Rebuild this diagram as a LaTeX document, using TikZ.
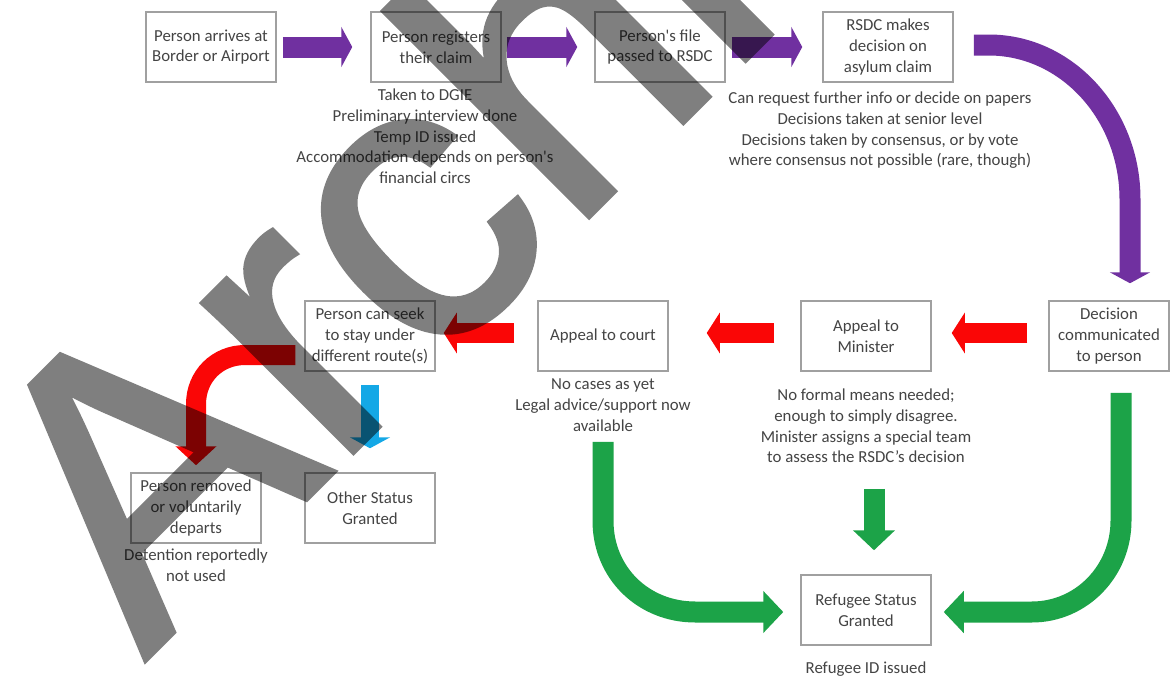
\documentclass[tikz,border=0pt]{standalone}
\usepackage{fontspec}
\setmainfont{Carlito}
\newfontfamily\wmfont[FakeBold=1.5]{Liberation Sans}
\usetikzlibrary{arrows.meta}
\definecolor{pur}{RGB}{112,48,160}
\definecolor{redA}{RGB}{250,6,6}
\definecolor{grnA}{RGB}{28,163,72}
\definecolor{bluA}{RGB}{20,168,230}
\definecolor{boxgray}{RGB}{160,160,160}
\definecolor{txt}{RGB}{68,68,68}
\newcommand{\dfont}{\fontsize{16.8}{20.7}\selectfont}
\begin{document}
\begin{tikzpicture}[x=1pt,y=-1pt,
  box/.style={draw=boxgray, line width=1.5pt, minimum width=130pt, minimum height=70pt, inner sep=0pt, align=center, text=txt, font=\dfont},
  note/.style={align=center, text=txt, inner sep=0pt, font=\dfont, anchor=north},
  pa/.style={draw=pur, line width=21pt, line cap=butt, -{Triangle[length=11pt,width=40pt]}},
  ra/.style={draw=redA, line width=20pt, line cap=butt, -{Triangle[length=13pt,width=40pt]}},
  rc/.style={draw=redA, line width=20pt, line cap=butt, -{Triangle[length=19pt,width=40pt]}},
  ba/.style={draw=bluA, line width=18pt, line cap=butt, -{Triangle[length=11pt,width=40pt]}},
  ga/.style={draw=grnA, line width=21pt, line cap=butt, -{Triangle[length=20pt,width=41pt]}}]
\useasboundingbox (0,0) rectangle (1171,680);
\fill[white] (0,0) rectangle (1171,680);
\clip (0,0) rectangle (1171,680);

% boxes
\node[box] (b1) at (211,47) {Person arrives at\\Border or Airport};
\node[box] (b2) at (436,47) {Person registers\\their claim};
\node[box] (b3) at (660,47) {Person\textquotesingle s file\\passed to RSDC};
\node[box] (b4) at (888,47) {RSDC makes\\decision on\\asylum claim};
\node[box, minimum width=120pt] (dec) at (1109,336) {Decision\\communicated\\to person};
\node[box] (min) at (866,336) {Appeal to\\Minister};
\node[box] (crt) at (603,336) {Appeal to court};
\node[box] (seek) at (370,336) {Person can seek\\to stay under\\different route(s)};
\node[box] (rem) at (196,508) {Person removed\\or voluntarily\\departs};
\node[box] (oth) at (370,508) {Other Status\\Granted};
\node[box] (ref) at (866,610) {Refugee Status\\Granted};

% notes
\node[note] (n2) at (425,89) {Taken to DGIE\\Preliminary interview done\\Temp ID issued\\Accommodation depends on person\textquotesingle s\\financial circs};
\node[note] (n4) at (880,92) {Can request further info or decide on papers\\Decisions taken at senior level\\Decisions taken by consensus, or by vote\\where consensus not possible (rare, though)};
\node[note] (ncrt) at (603,379) {No cases as yet\\Legal advice/support now\\available};
\node[note] (nmin) at (866,389) {No formal means needed;\\enough to simply disagree.\\Minister assigns a special team\\to assess the RSDC’s decision};
\node[note] (nrem) at (196,549) {Detention reportedly\\not used};
\node[note] (nref) at (866,662) {Refugee ID issued};

% purple arrows
\draw[pa] ([xshift=6pt]b1.east) -- ([xshift=-18pt]b2.west);
\draw[pa] ([xshift=5pt]b2.east) -- ([xshift=-17pt]b3.west);
\draw[pa] ([xshift=6pt]b3.east) -- ([xshift=-20pt]b4.west);
\draw[pa] ([xshift=20pt,yshift=2pt]b4.east) -- ++(15,0)
  .. controls +(78,0) and +(0,-85) .. ([xshift=21pt,yshift=101pt]dec.north)
  -- ([xshift=21pt,yshift=17pt]dec.north);

% red arrows
\draw[ra] ([xshift=-21pt,yshift=3pt]dec.west) -- ([xshift=20pt,yshift=3pt]min.east);
\draw[ra] ([xshift=-26pt,yshift=3pt]min.west) -- ([xshift=38pt,yshift=3pt]crt.east);
\draw[ra] ([xshift=-23pt,yshift=3pt]crt.west) -- ([xshift=8pt,yshift=3pt]seek.east);
\draw[rc] ([xshift=-9pt,yshift=-19pt]seek.west) -- ++(-50,0)
  .. controls +(-28,0) and +(0,-28) .. ([yshift=68pt]rem.north)
  -- ([yshift=7pt]rem.north);

% blue arrow
\draw[ba] ([yshift=-13pt]seek.south) -- ([yshift=24pt]oth.north);

% green arrows
\draw[ga] ([xshift=8pt,yshift=-117pt]min.south) -- ([xshift=8pt,yshift=24pt]ref.north);
\draw[ga] ([yshift=-70pt]crt.south) -- ++(0,79)
  .. controls +(0,52) and +(-52,0) .. ([xshift=-105pt,yshift=-2pt]ref.west)
  -- ([xshift=-17pt,yshift=-2pt]ref.west);
\draw[ga] ([xshift=12pt,yshift=-21pt]dec.south) -- ++(0,128)
  .. controls +(0,50) and +(50,0) .. ([xshift=100pt,yshift=-2pt]ref.east)
  -- ([xshift=12pt,yshift=-2pt]ref.east);

% watermark
\begin{scope}[transparency group, opacity=0.5]
\node[font={\wmfont\fontsize{400}{400}\selectfont}, rotate=45, anchor=base west, inner sep=0pt, text=black] (wm) at (145,660) {Archived};
\end{scope}
\end{tikzpicture}
\end{document}
